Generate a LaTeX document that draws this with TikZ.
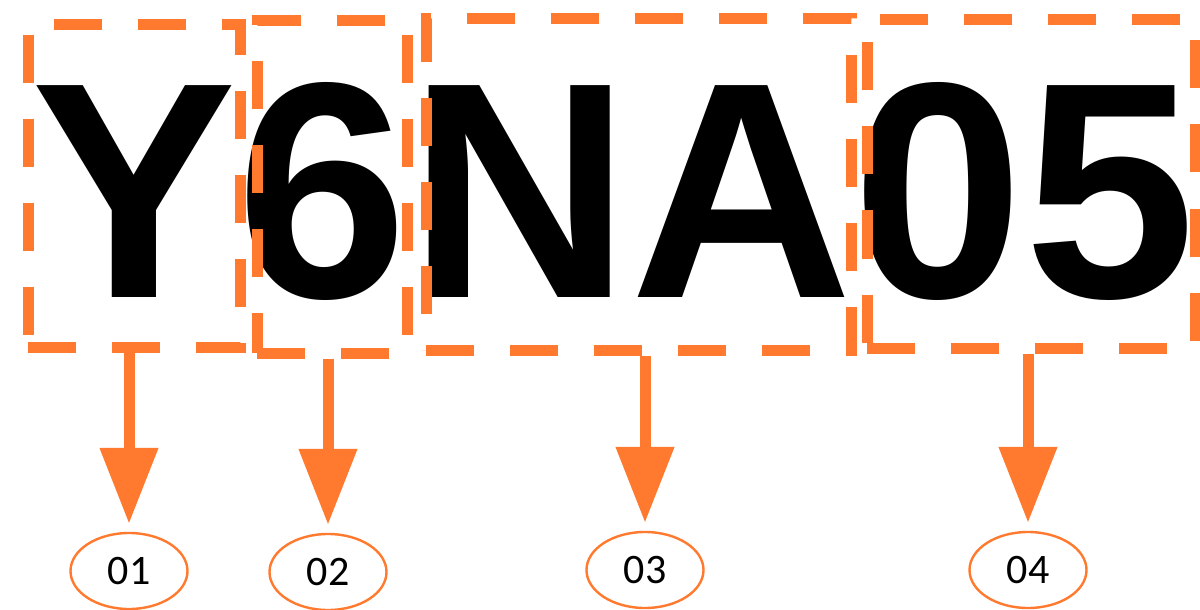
\documentclass[tikz,border=0pt]{standalone}
\usepackage{fontspec}
\newfontfamily\marchio{Liberation Sans}
\newfontfamily\numeri{Carlito}
\usetikzlibrary{arrows.meta,shapes.geometric}
\definecolor{arancio}{RGB}{255,122,47}
\tikzset{
>={Triangle[length=38pt,width=28pt]},
gruppo/.style={rectangle,draw=arancio,line width=5.5pt,dash pattern=on 24pt off 18pt,inner sep=0pt},
sigla/.style={ellipse,draw=arancio,line width=1.2pt,minimum width=58.5pt,minimum height=38pt,inner sep=0pt,font=\numeri\fontsize{21}{21}\selectfont},
indica/.style={->,arancio,line width=5.5pt,shorten >=4pt}}

\begin{document}
\begin{tikzpicture}[x=0.5pt,y=-0.5pt]

\useasboundingbox (0,0) rectangle (1200,610);
\node[anchor=base west,inner sep=0pt,font=\marchio\bfseries\fontsize{154}{154}\selectfont] (codice) at (31,297) {Y6NA05};

\node[gruppo,minimum width=106pt,minimum height=161pt] (b1) at (134,186) {};
\node[gruppo,minimum width=75pt,minimum height=166pt] (b2) at (332,187) {};
\node[gruppo,minimum width=212.5pt,minimum height=165.5pt] (b3) at (638.5,184.5) {};
\node[gruppo,minimum width=164pt,minimum height=164.5pt] (b4) at (1031,184) {};

\node[sigla] (s1) at (129,571) {01};
\node[sigla] (s2) at (328,572) {02};
\node[sigla] (s3) at (645,570) {03};
\node[sigla] (s4) at (1028,570) {04};

\path[indica] (b1.south -| s1) edge (s1);
\path[indica] (b2.south -| s2) edge (s2);
\path[indica] (b3.south -| s3) edge (s3);
\path[indica] (b4.south -| s4) edge (s4);

\end{tikzpicture}
\end{document}
